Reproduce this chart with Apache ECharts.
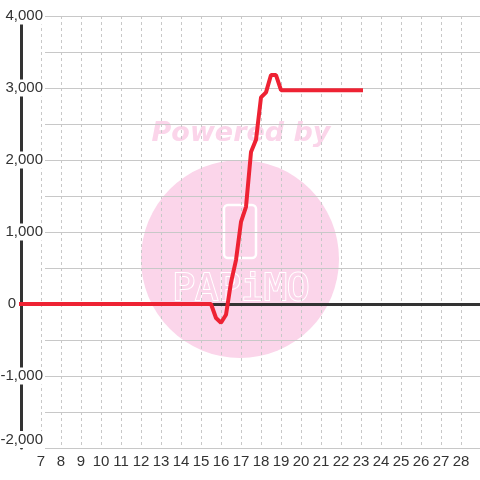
<!DOCTYPE html>
<html>
<head>
<meta charset="utf-8">
<script src="https://cdn.jsdelivr.net/npm/echarts@6/dist/echarts.min.js"></script>
<style>
  html, body { margin: 0; padding: 0; background: #fff; }
  #chart { width: 480px; height: 480px; }
</style>
</head>
<body>
<div id="chart"></div>
<script>
// hours on the x axis, values on the y axis
var hours = [6, 15.5, 15.75, 16, 16.25, 16.5, 16.75, 17, 17.25, 17.5, 17.75, 18, 18.25, 18.5, 18.75, 19, 23];
var values = [0, 0, -195, -260, -150, 300, 610, 1140, 1350, 2110, 2280, 2870, 2940, 3180, 3180, 2970, 2970];
var xRange = [6, 29];
var yRange = [-2000, 4000];

var red = '#ee2233';
var pink = '#fbd5ea';
var font = 'Liberation Sans';

function fmt(v) {
  return v.toLocaleString('en-US');
}

var chart = echarts.init(document.getElementById('chart'));
var option = {
  backgroundColor: '#fff',
  animation: false,
  graphic: [
    { type: 'circle', z: -10, shape: { cx: 240, cy: 259, r: 99 }, style: { fill: pink } },
    { type: 'text', z: -10, style: { text: 'Powered by', x: 241, y: 134, align: 'center', verticalAlign: 'middle', fill: pink, font: 'italic bold 27px "DejaVu Sans"' } },
    { type: 'rect', z: -9, shape: { x: 224, y: 205, width: 32, height: 53, r: 4 }, style: { fill: 'none', stroke: '#fff', lineWidth: 2.5 } },
    { type: 'text', z: -9, style: { text: 'PAPiMO', x: 241, y: 290, align: 'center', verticalAlign: 'middle', fill: pink, stroke: '#fff', lineWidth: 2, font: '38px "DejaVu Sans Mono"' } }
  ],
  grid: [
    { left: 21, right: -1, top: 16, bottom: 32, outerBoundsMode: 'none', containLabel: false },
    { left: 45, right: 0, top: 16, bottom: 32, outerBoundsMode: 'none', containLabel: false }
  ],
  xAxis: [
    {
      gridIndex: 0,
      type: 'value',
      min: xRange[0],
      max: xRange[1],
      interval: 1,
      axisLine: { show: false, onZero: false },
      axisTick: { show: false },
      axisLabel: { color: '#333', fontSize: 15, fontFamily: font, margin: 6, showMinLabel: false, showMaxLabel: false },
      splitLine: { show: true, lineStyle: { color: '#c8c8c8', type: [3, 3] } }
    },
    {
      gridIndex: 0,
      type: 'value',
      min: xRange[0],
      max: xRange[1],
      axisLine: { show: true, onZero: true, lineStyle: { color: '#333', width: 3 } },
      axisTick: { show: false },
      axisLabel: { show: false },
      splitLine: { show: false }
    },
    {
      gridIndex: 1,
      type: 'value',
      show: false
    }
  ],
  yAxis: [
    {
      gridIndex: 0,
      type: 'value',
      min: yRange[0],
      max: yRange[1],
      interval: 1000,
      axisLine: { show: true, lineStyle: { color: '#333', width: 3 } },
      axisTick: { show: false },
      splitLine: { show: false },
      axisLabel: {
        margin: -24,
        color: '#333',
        fontSize: 15,
        fontFamily: font,
        verticalAlignMinLabel: 'bottom',
        formatter: function (v) {
          return v === 0 ? '{z|0}' : '{a|' + fmt(v) + '}';
        },
        rich: {
          a: { backgroundColor: '#fff', padding: [1, 2, 1, 2], color: '#333', fontSize: 15, fontFamily: font },
          z: { padding: [0, 29, 0, 0], color: '#333', fontSize: 15, fontFamily: font }
        }
      }
    },
    {
      gridIndex: 1,
      type: 'value',
      min: yRange[0],
      max: yRange[1],
      interval: 500,
      axisLine: { show: false },
      axisTick: { show: false },
      axisLabel: { show: false },
      splitLine: { show: true, lineStyle: { color: '#c8c8c8', width: 1 } }
    }
  ],
  series: [
    {
      type: 'line',
      xAxisIndex: 0,
      yAxisIndex: 0,
      data: hours.map(function (h, i) { return [h, values[i]]; }),
      showSymbol: false,
      symbol: 'none',
      lineStyle: { color: red, width: 4, cap: 'square' },
      z: 5
    }
  ]
};
chart.setOption(option);
</script>
</body>
</html>
